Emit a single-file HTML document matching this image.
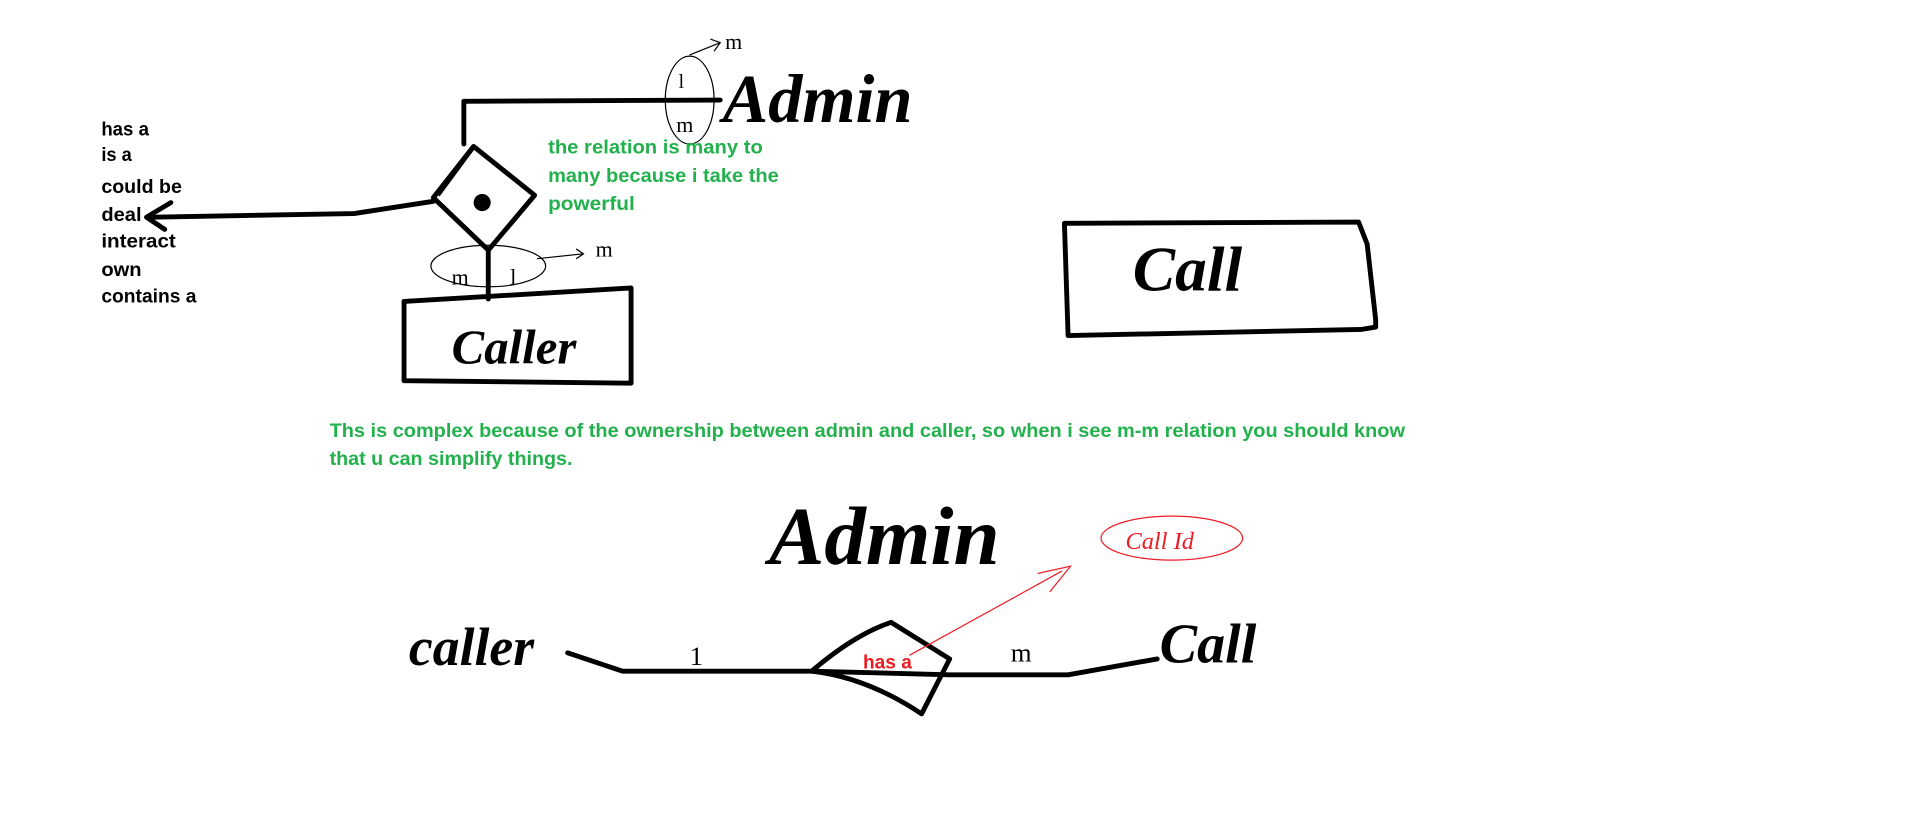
<!DOCTYPE html>
<html><head><meta charset="utf-8"><style>
html,body{margin:0;padding:0;background:#fff;overflow:hidden}
svg{display:block}
.t{font-family:"Liberation Sans",sans-serif;font-weight:bold;font-size:16px}
.h{font-family:"Liberation Serif",serif;font-style:italic;font-weight:bold}
</style></head><body>
<svg width="1914" height="831" viewBox="0 0 1568 681" preserveAspectRatio="none" xmlns="http://www.w3.org/2000/svg">
<g fill="none" stroke="#000" stroke-width="4" stroke-linejoin="round" stroke-linecap="round">
<path d="M380 118 L380 83 L590 82"/>
<path d="M388 120 L438 160 L400 205 L355 162 Z"/>
<path d="M360 160 L388 122" stroke-width="1.5"/>
<path d="M355 165 L290 175 L125 178"/>
<path d="M140 166 L120 178 L135 188"/>
<path d="M400 205 L400 245"/>
<path d="M331 247 L517 236 L517 314 L331 312 Z"/>
<path d="M872 183 L1113 182 L1120 200 L1127 262 L1127 268 L1115 270 L875 275 Z"/>
<path d="M465 535 L510 550 L665 550 L778 553 L875 553 L948 540"/>
<path d="M665 550 Q700 520 730 510 L778 540 L755 585 Q710 555 665 550"/>
</g>
<circle cx="395" cy="166" r="7" fill="#000"/>
<g fill="none" stroke="#000" stroke-width="1">
<ellipse cx="565" cy="82" rx="20" ry="36"/>
<ellipse cx="400" cy="218" rx="47" ry="17"/>
<path d="M565 45 L590 35 M582 32 L590 35 L585 42"/>
<path d="M440 212 L478 208 M472 204 L478 208 L472 212"/>
</g>
<g fill="none" stroke="#ed1c24" stroke-width="1">
<path d="M745 537 L870 468"/>
<path d="M850 470 L877 464 L860 485"/>
<ellipse cx="960" cy="441" rx="58" ry="18"/>
</g>
<g class="t" fill="#000" lengthAdjust="spacingAndGlyphs">
<text x="83" y="111" textLength="39" lengthAdjust="spacingAndGlyphs">has a</text>
<text x="83" y="132" textLength="25" lengthAdjust="spacingAndGlyphs">is a</text>
<text x="83" y="158" textLength="66" lengthAdjust="spacingAndGlyphs">could be</text>
<text x="83" y="181" textLength="33" lengthAdjust="spacingAndGlyphs">deal</text>
<text x="83" y="203" textLength="61" lengthAdjust="spacingAndGlyphs">interact</text>
<text x="83" y="226" textLength="33" lengthAdjust="spacingAndGlyphs">own</text>
<text x="83" y="248" textLength="78" lengthAdjust="spacingAndGlyphs">contains a</text>
</g>
<g class="t" fill="#22b14c">
<text x="449" y="126" textLength="176" lengthAdjust="spacingAndGlyphs">the relation is many to</text>
<text x="449" y="149" textLength="189" lengthAdjust="spacingAndGlyphs">many because i take the</text>
<text x="449" y="172" textLength="71" lengthAdjust="spacingAndGlyphs">powerful</text>
<text x="270" y="358" textLength="881" lengthAdjust="spacingAndGlyphs">Ths is complex because of the ownership between admin and caller, so when i see m-m relation you should know</text>
<text x="270" y="381" textLength="199" lengthAdjust="spacingAndGlyphs">that u can simplify things.</text>
</g>
<text class="t" x="707" y="548" fill="#ed1c24" textLength="40" lengthAdjust="spacingAndGlyphs">has a</text>
<g class="h" fill="#000">
<text x="592" y="100" font-size="56">Admin</text>
<text x="370" y="298" font-size="40">Caller</text>
<text x="928" y="238" font-size="52">Call</text>
<text x="630" y="462" font-size="68">Admin</text>
<text x="335" y="545" font-size="44">caller</text>
<text x="950" y="543" font-size="46">Call</text>
</g>
<g font-family="Liberation Serif,serif" font-size="22" fill="#000">
<text x="565" y="545">1</text>
<text x="828" y="542">m</text>
<text x="594" y="40" font-size="18">m</text>
<text x="556" y="72" font-size="16">l</text>
<text x="554" y="108" font-size="18">m</text>
<text x="488" y="210" font-size="18">m</text>
<text x="370" y="233" font-size="18">m</text>
<text x="418" y="233" font-size="18">l</text>
</g>
<text x="922" y="450" font-family="Liberation Serif,serif" font-style="italic" font-size="20" fill="#ed1c24">Call Id</text>
</svg>
</body></html>
